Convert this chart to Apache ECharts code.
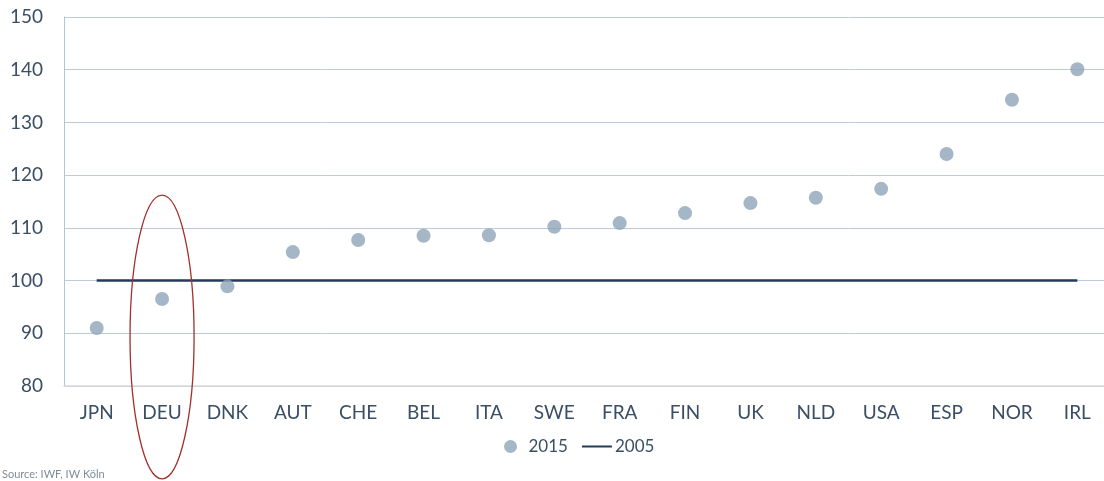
<!DOCTYPE html>
<html>
<head>
<meta charset="utf-8">
<script src="https://cdn.jsdelivr.net/npm/echarts@6/dist/echarts.min.js"></script>
<style>
html,body{margin:0;padding:0;background:#fff;overflow:hidden;width:1104px;height:481px;}
#chart{width:1110px;height:481px;}
</style>
</head>
<body>
<div id="chart"></div>
<script>
const categories = ['JPN','DEU','DNK','AUT','CHE','BEL','ITA','SWE','FRA','FIN','UK','NLD','USA','ESP','NOR','IRL'];
const values2015 = [91.0, 96.5, 98.9, 105.4, 107.7, 108.5, 108.6, 110.2, 110.9, 112.8, 114.7, 115.7, 117.4, 124.0, 134.3, 140.1];
const values2005 = [100,100,100,100,100,100,100,100,100,100,100,100,100,100,100,100];
const yTicks = [80, 90, 100, 110, 120, 130, 140, 150];
const highlight = { category: 'DEU', top: 116.2, center: 89.3 };
const sourceText = 'Source: IWF, IW Köln';

const FONT = 'Lato';
const TEXT = '#3a4e65';
const chart = echarts.init(document.getElementById('chart'), null, {renderer: 'canvas'});
const option = {
  animation: false,
  backgroundColor: '#ffffff',
  grid: { left: 64, right: 0, top: 17, bottom: 95, containLabel: false },
  legend: {
    bottom: 21,
    left: 499,
    itemGap: 14,
    itemWidth: 30,
    itemHeight: 13,
    textStyle: { fontFamily: FONT, fontSize: 17, color: TEXT, padding: [0, 0, 0, -2] },
    data: [
      { name: '2015', icon: 'circle', itemStyle: { color: '#8ea4b9' } },
      { name: '2005', icon: 'path://M0,0 L30,0 L30,2 L0,2 Z', itemStyle: { color: '#243a5a' } }
    ]
  },
  xAxis: {
    type: 'category',
    data: categories,
    boundaryGap: true,
    axisLine: { show: true, lineStyle: { color: '#d9d9d9', width: 1.5 } },
    axisTick: { show: false },
    axisLabel: { fontFamily: FONT, fontSize: 19, color: TEXT, margin: 17, interval: 0 },
    splitLine: { show: false }
  },
  yAxis: {
    type: 'value',
    min: yTicks[0],
    max: yTicks[yTicks.length - 1],
    interval: 10,
    axisLine: { show: true, lineStyle: { color: '#b4c4d6', width: 1 } },
    axisTick: { show: false },
    axisLabel: { fontFamily: FONT, fontSize: 19, color: TEXT, margin: 21 },
    splitLine: { show: true, lineStyle: { color: '#bccbdb', width: 1 } }
  },
  series: [
    {
      name: '2015',
      type: 'scatter',
      data: values2015,
      symbol: 'circle',
      symbolSize: 14,
      itemStyle: { color: '#8ea4b9' },
      z: 3
    },
    {
      name: '2005',
      type: 'line',
      data: values2005,
      symbol: 'none',
      lineStyle: { color: '#243a5a', width: 2.5 },
      z: 2
    }
  ]
};
chart.setOption(option);

// Highlight ellipse around the DEU category, derived from axis scales
const pc = chart.convertToPixel({ xAxisIndex: 0, yAxisIndex: 0 }, [highlight.category, highlight.center]);
const pt = chart.convertToPixel({ xAxisIndex: 0, yAxisIndex: 0 }, [highlight.category, highlight.top]);
const p0 = chart.convertToPixel({ xAxisIndex: 0 }, categories[0]);
const p1 = chart.convertToPixel({ xAxisIndex: 0 }, categories[1]);
const band = p1 - p0;
chart.setOption({
  graphic: [
    {
      type: 'text',
      left: 2,
      bottom: 1,
      style: { text: sourceText, fontFamily: FONT, fontSize: 11, fill: '#7f8c99' }
    },
    {
      type: 'ellipse',
      shape: { cx: pc[0], cy: pc[1], rx: band * 0.49, ry: pc[1] - pt[1] },
      style: { fill: 'none', stroke: '#a3302c', lineWidth: 1.3 },
      z: 10
    }
  ]
});
</script>
</body>
</html>
